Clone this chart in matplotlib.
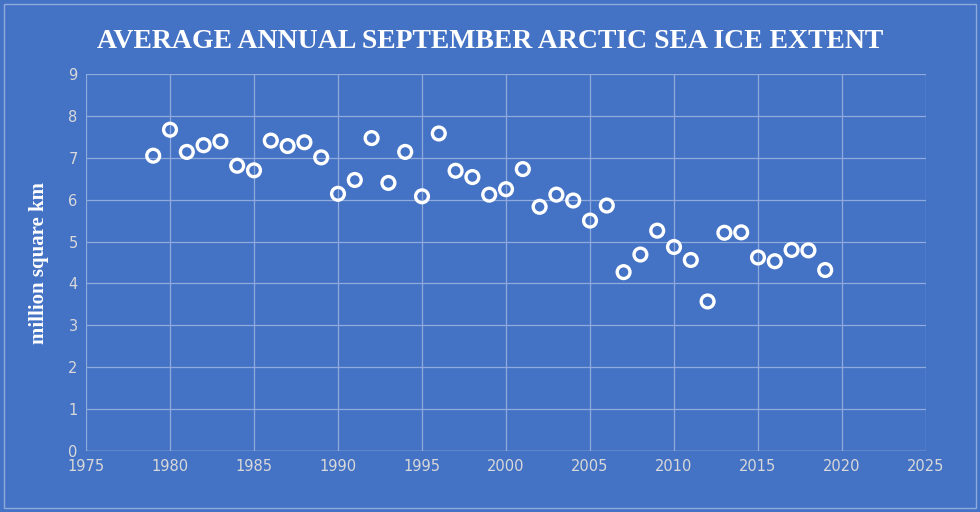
import matplotlib
matplotlib.use("Agg")
import matplotlib.pyplot as plt

years = list(range(1979, 2020))
extent = [7.05, 7.67, 7.14, 7.30, 7.39, 6.81, 6.70, 7.41, 7.28, 7.37, 7.01, 6.14, 6.47, 7.47,
          6.40, 7.14, 6.08, 7.58, 6.69, 6.54, 6.12, 6.25, 6.73, 5.83, 6.12, 5.98, 5.50, 5.86,
          4.27, 4.69, 5.26, 4.87, 4.56, 3.57, 5.21, 5.22, 4.62, 4.53, 4.80, 4.79, 4.32]
xticks = list(range(1975, 2030, 5))
yticks = list(range(0, 10))

bg = "#4472C4"
fig = plt.figure(figsize=(9.8, 5.12), dpi=100, facecolor=bg)
ax = fig.add_axes([86/980, 1-451/512, 840/980, 377/512])
ax.set_facecolor(bg)
ax.scatter(years, extent, s=85, facecolors="none", edgecolors="white", linewidths=2.4, zorder=3)
ax.set_xlim(1975, 2025)
ax.set_ylim(0, 9)
ax.set_xticks(xticks)
ax.set_yticks(yticks)
ax.grid(True, color="#8FAADC", linewidth=0.9)
for s in ax.spines.values():
    s.set_visible(False)
ax.axhline(0, color="#A9BCE3", linewidth=1)
ax.tick_params(length=0, colors="#D9D9D9", labelsize=10.5, pad=6)
ax.set_ylabel("million square km", family="Liberation Serif", fontsize=15,
              fontweight="bold", color="white", labelpad=14)
fig.text(0.5, 1-42/512, "AVERAGE ANNUAL SEPTEMBER ARCTIC SEA ICE EXTENT",
         ha="center", va="center", family="Liberation Serif", fontsize=20,
         fontweight="bold", color="white")
fig.patches.append(plt.Rectangle((4/980, 4/512), 972/980, 504/512, transform=fig.transFigure,
                                 fill=False, edgecolor="#8FAADC", linewidth=1))
fig.savefig("out.png", dpi=100, facecolor=bg)
